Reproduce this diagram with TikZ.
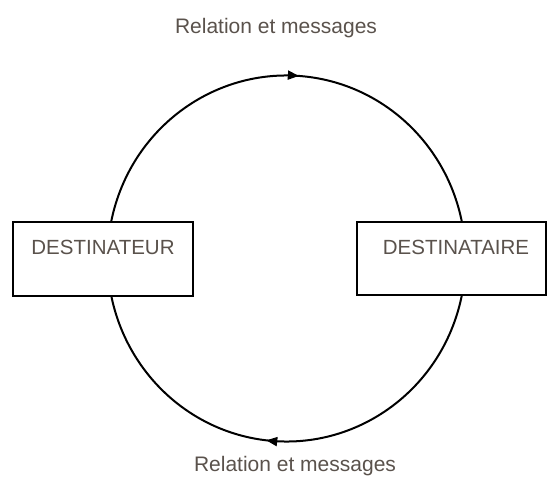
\documentclass[tikz,border=0pt]{standalone}
\usepackage{fontspec}
\setmainfont{Liberation Sans}
\usetikzlibrary{arrows.meta,decorations.markings}
\definecolor{txt}{HTML}{5A524C}
\begin{document}
\begin{tikzpicture}[x=1pt,y=1pt,
  boxstyle/.style={draw=black,line width=2.6pt,fill=white,inner sep=0pt,rectangle},
  lbl/.style={text=txt,font=\fontsize{20.5}{24}\selectfont,inner sep=0pt},
  arcline/.style={draw=black,line width=2pt},
  tipmark/.style={postaction={decorate},decoration={markings,mark=at position #1 with {\arrow{Triangle[length=11pt,width=9pt]}}}}
]
\useasboundingbox (0,0) rectangle (548,477);
% ellipse centre (286.5,218.5), radii 179 x 183
\coordinate (c) at (286.5,218.5);
\draw[arcline,tipmark=0.525] ([shift={(168.5:179 and 183)}]c) arc[start angle=168.5,end angle=11.5,x radius=179,y radius=183];
\draw[arcline,tipmark=0.541] ([shift={(-11.5:179 and 183)}]c) arc[start angle=-11.5,end angle=-168.5,x radius=179,y radius=183];
\node[boxstyle,minimum width=180pt,minimum height=74pt] (src) at (103,218) {};
\node[boxstyle,minimum width=189pt,minimum height=73pt] (dst) at (451.5,218.5) {};
\node[lbl] (srct) at (103,230) {DESTINATEUR};
\node[lbl] (dstt) at (456,230) {DESTINATAIRE};
\node[lbl,font=\fontsize{21}{24}\selectfont] (toplbl) at (276,449) {Relation et messages};
\node[lbl,font=\fontsize{21}{24}\selectfont] (botlbl) at (295,11) {Relation et messages};
\end{tikzpicture}
\end{document}
